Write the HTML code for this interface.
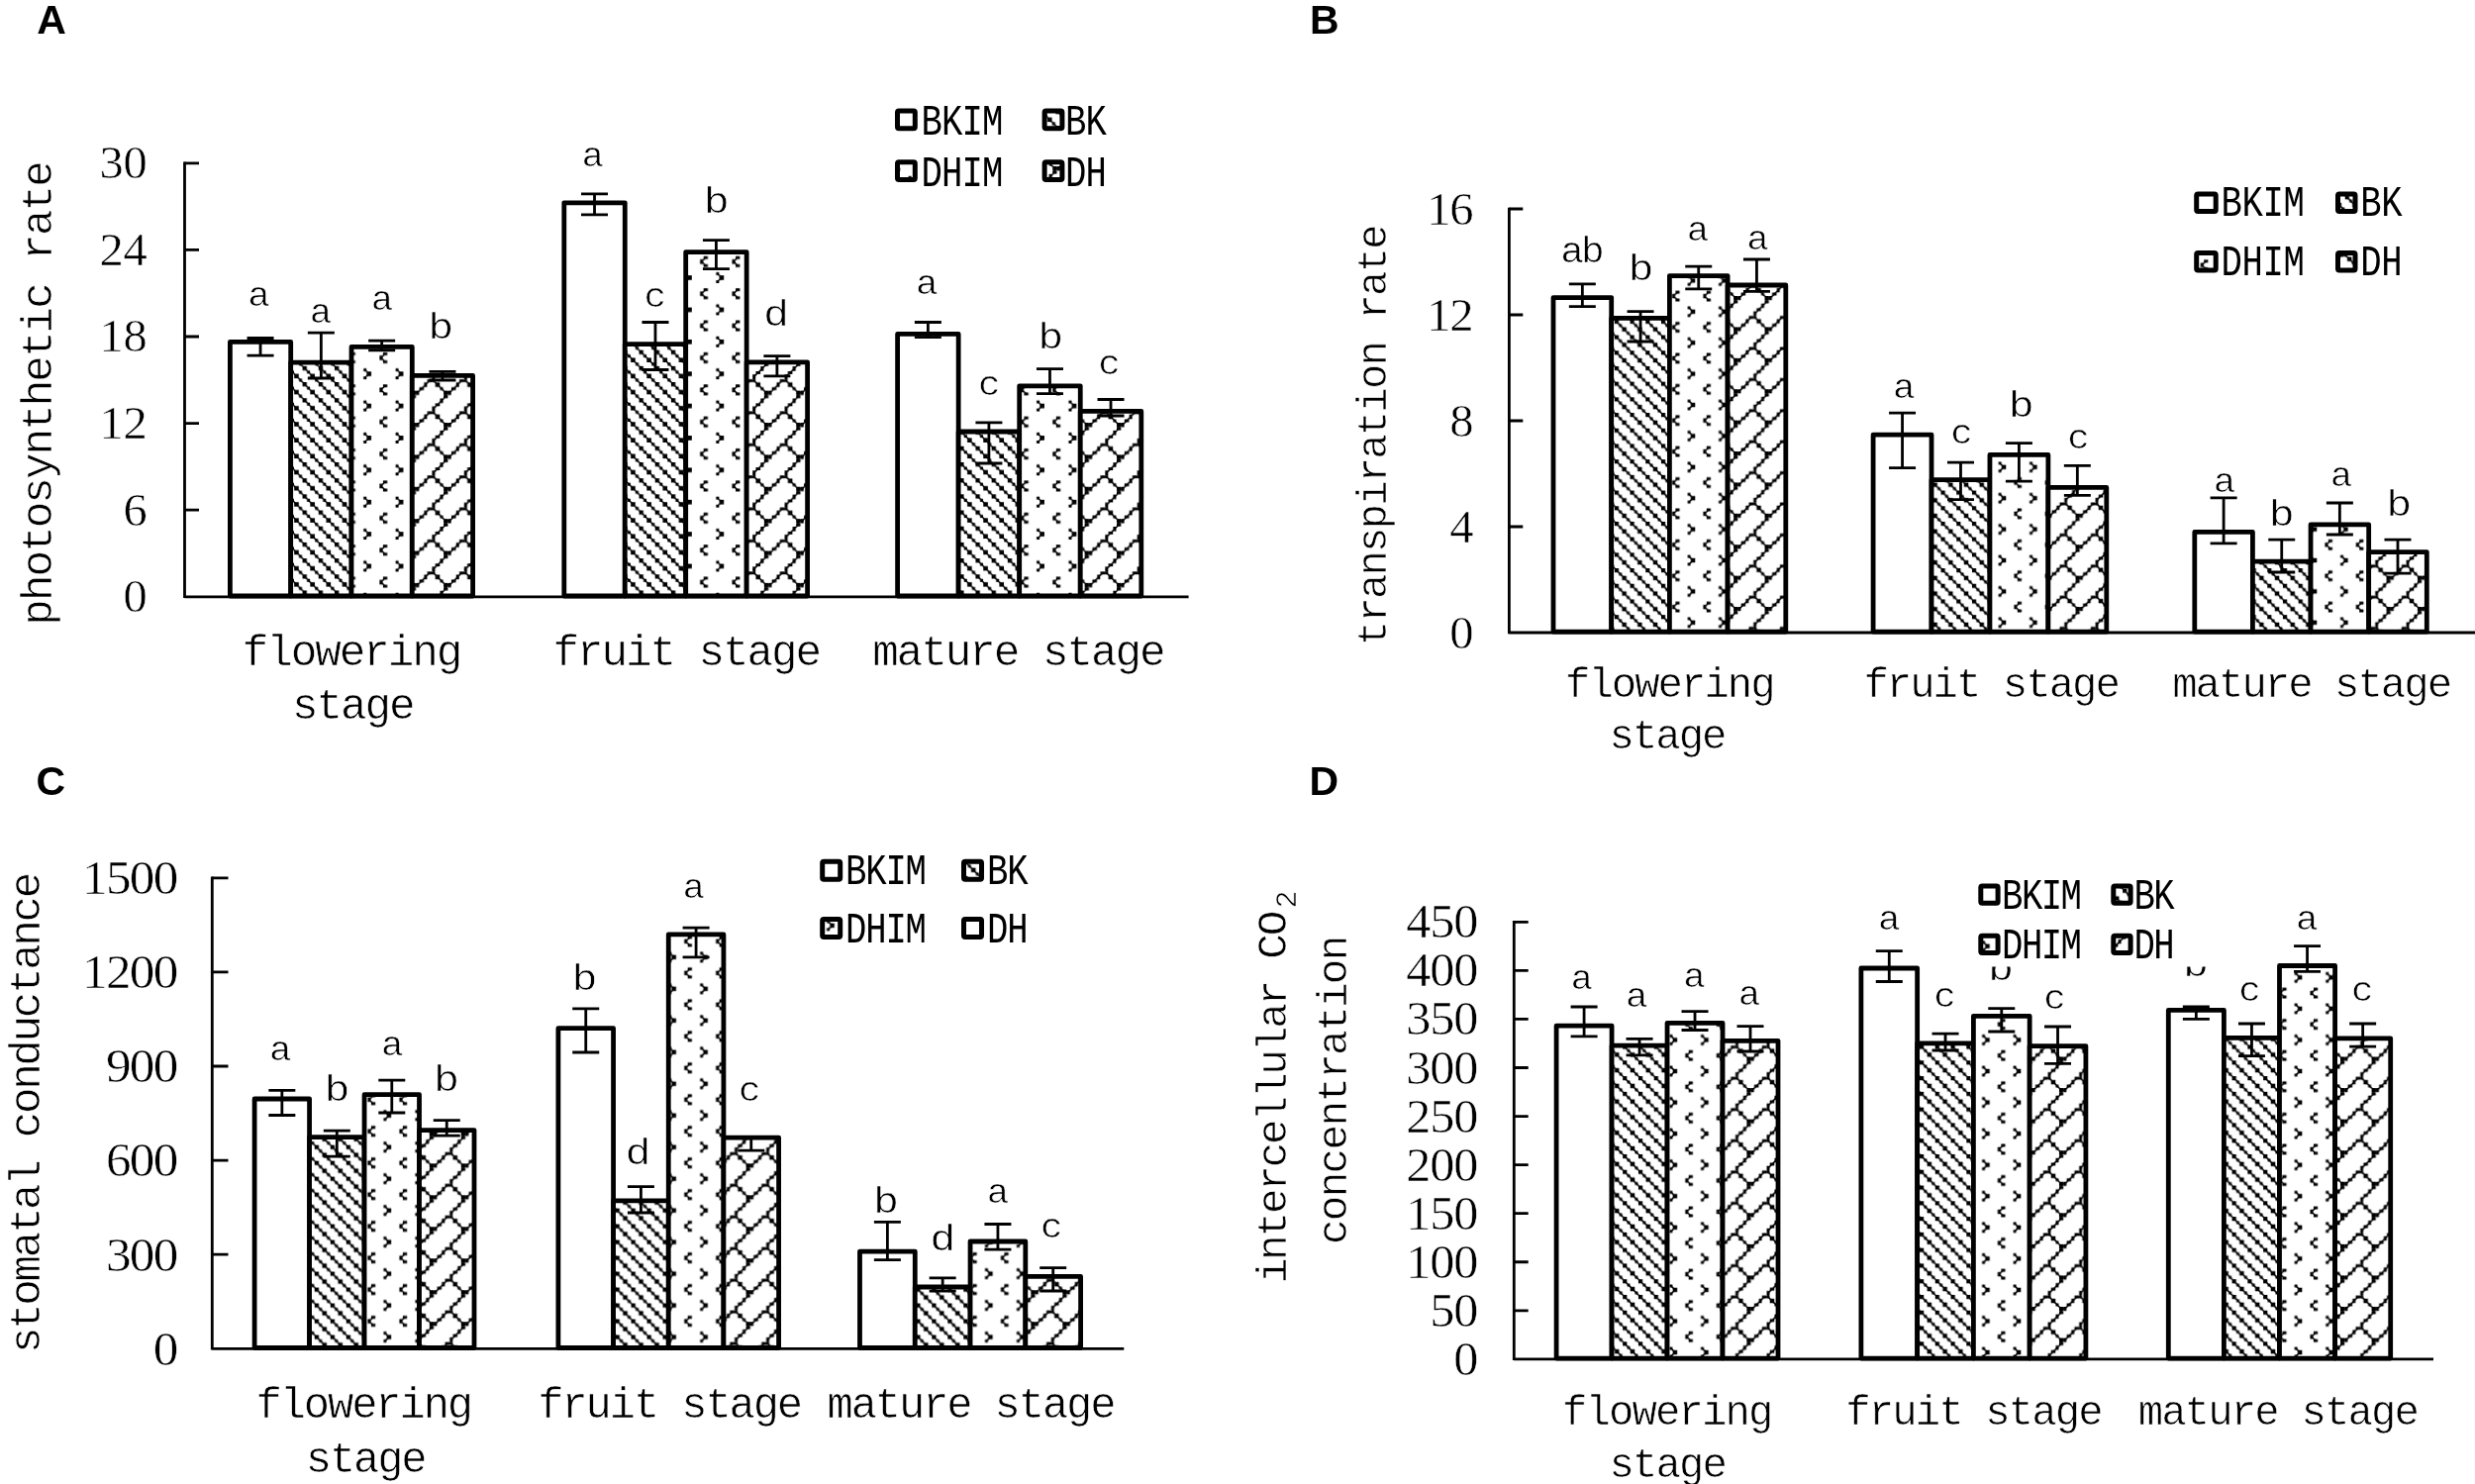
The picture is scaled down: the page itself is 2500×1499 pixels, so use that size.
<!DOCTYPE html>
<html><head><meta charset="utf-8"><title>Figure</title>
<style>
html,body{margin:0;padding:0;background:#fff;}
body{width:2500px;height:1499px;overflow:hidden;}
svg{display:block;filter:blur(0.55px);}
</style></head><body>
<svg width="2500" height="1499" viewBox="0 0 2500 1499">
<defs>
<pattern id="pdA" patternUnits="userSpaceOnUse" x="-2.02" y="13.68" width="16.188" height="16.188"><rect width="16.188" height="16.188" fill="#fff"/><path d="M-0.27 -0.27h4.60v4.60h-4.60zM4.55 4.55h3.05v3.05h-3.05zM7.82 7.82h4.60v4.60h-4.60zM12.64 12.64h3.05v3.05h-3.05z" fill="#000"/><path d="M-14.16 -14.16L2.02 2.02M-14.16 2.02L2.02 18.21M-14.16 18.21L2.02 34.40M2.02 -14.16L18.21 2.02M2.02 2.02L18.21 18.21M2.02 18.21L18.21 34.40M18.21 -14.16L34.40 2.02M18.21 2.02L34.40 18.21M18.21 18.21L34.40 34.40" stroke="#000" stroke-width="1.5" fill="none" stroke-linecap="square"/></pattern>
<pattern id="pvA" patternUnits="userSpaceOnUse" x="-1.60" y="11.34" width="32.376" height="32.376"><rect width="32.376" height="32.376" fill="#fff"/><path d="M12.64 4.55h3.05v3.05h-3.05zM15.91 7.82h4.60v4.60h-4.60zM12.64 12.64h3.05v3.05h-3.05zM-0.27 20.73h4.60v3.05h-4.60zM28.83 24.01h3.05v4.60h-3.05zM-0.27 28.83h4.60v3.05h-4.60z" fill="#000"/><path d="M-18.21 -26.31L-14.16 -22.26L-18.21 -18.21M-18.21 6.07L-14.16 10.12L-18.21 14.16M-18.21 38.45L-14.16 42.49L-18.21 46.54M14.16 -26.31L18.21 -22.26L14.16 -18.21M14.16 6.07L18.21 10.12L14.16 14.16M14.16 38.45L18.21 42.49L14.16 46.54M46.54 -26.31L50.59 -22.26L46.54 -18.21M46.54 6.07L50.59 10.12L46.54 14.16M46.54 38.45L50.59 42.49L46.54 46.54M-30.35 -10.12L-34.40 -6.07L-30.35 -2.02M-30.35 22.26L-34.40 26.31L-30.35 30.35M-30.35 54.63L-34.40 58.68L-30.35 62.73M2.02 -10.12L-2.02 -6.07L2.02 -2.02M2.02 22.26L-2.02 26.31L2.02 30.35M2.02 54.63L-2.02 58.68L2.02 62.73M34.40 -10.12L30.35 -6.07L34.40 -2.02M34.40 22.26L30.35 26.31L34.40 30.35M34.40 54.63L30.35 58.68L34.40 62.73" stroke="#000" stroke-width="1.5" fill="none" stroke-linecap="square"/></pattern>
<pattern id="psA" patternUnits="userSpaceOnUse" x="27.20" y="6.10" width="32.376" height="32.376"><rect width="32.376" height="32.376" fill="#fff"/><path d="M-0.27 -0.27h4.60v4.60h-4.60zM4.55 -0.27h3.05v4.60h-3.05zM-0.27 4.55h4.60v3.05h-4.60zM28.83 7.82h3.05v4.60h-3.05zM24.01 12.64h4.60v3.05h-4.60zM20.73 15.91h3.05v4.60h-3.05zM15.91 20.73h4.60v3.05h-4.60zM20.73 20.73h3.05v3.05h-3.05zM12.64 24.01h3.05v4.60h-3.05zM24.01 24.01h4.60v4.60h-4.60zM7.82 28.83h4.60v3.05h-4.60zM28.83 28.83h3.05v3.05h-3.05z" fill="#000"/><path d="M-26.31 -30.35L-30.35 -30.35L-30.35 -26.31L-34.40 -22.26M-26.31 2.02L-30.35 2.02L-30.35 6.07L-34.40 10.12M-26.31 34.40L-30.35 34.40L-30.35 38.45L-34.40 42.49M6.07 -30.35L2.02 -30.35L2.02 -26.31L-2.02 -22.26M6.07 2.02L2.02 2.02L2.02 6.07L-2.02 10.12M6.07 34.40L2.02 34.40L2.02 38.45L-2.02 42.49M38.45 -30.35L34.40 -30.35L34.40 -26.31L30.35 -22.26M38.45 2.02L34.40 2.02L34.40 6.07L30.35 10.12M38.45 34.40L34.40 34.40L34.40 38.45L30.35 42.49M2.02 -26.31L-2.02 -22.26L-6.07 -18.21L-10.12 -14.16L-10.12 -10.12L-14.16 -10.12L-18.21 -6.07L-22.26 -2.02L-26.31 2.02M2.02 6.07L-2.02 10.12L-6.07 14.16L-10.12 18.21L-10.12 22.26L-14.16 22.26L-18.21 26.31L-22.26 30.35L-26.31 34.40M2.02 38.45L-2.02 42.49L-6.07 46.54L-10.12 50.59L-10.12 54.63L-14.16 54.63L-18.21 58.68L-22.26 62.73L-26.31 66.78M34.40 -26.31L30.35 -22.26L26.31 -18.21L22.26 -14.16L22.26 -10.12L18.21 -10.12L14.16 -6.07L10.12 -2.02L6.07 2.02M34.40 6.07L30.35 10.12L26.31 14.16L22.26 18.21L22.26 22.26L18.21 22.26L14.16 26.31L10.12 30.35L6.07 34.40M34.40 38.45L30.35 42.49L26.31 46.54L22.26 50.59L22.26 54.63L18.21 54.63L14.16 58.68L10.12 62.73L6.07 66.78M66.78 -26.31L62.73 -22.26L58.68 -18.21L54.63 -14.16L54.63 -10.12L50.59 -10.12L46.54 -6.07L42.49 -2.02L38.45 2.02M66.78 6.07L62.73 10.12L58.68 14.16L54.63 18.21L54.63 22.26L50.59 22.26L46.54 26.31L42.49 30.35L38.45 34.40M66.78 38.45L62.73 42.49L58.68 46.54L54.63 50.59L54.63 54.63L50.59 54.63L46.54 58.68L42.49 62.73L38.45 66.78M-10.12 -10.12L-6.07 -6.07L-2.02 -2.02L2.02 2.02M-10.12 22.26L-6.07 26.31L-2.02 30.35L2.02 34.40M-10.12 54.63L-6.07 58.68L-2.02 62.73L2.02 66.78M22.26 -10.12L26.31 -6.07L30.35 -2.02L34.40 2.02M22.26 22.26L26.31 26.31L30.35 30.35L34.40 34.40M22.26 54.63L26.31 58.68L30.35 62.73L34.40 66.78M54.63 -10.12L58.68 -6.07L62.73 -2.02L66.78 2.02M54.63 22.26L58.68 26.31L62.73 30.35L66.78 34.40M54.63 54.63L58.68 58.68L62.73 62.73L66.78 66.78" stroke="#000" stroke-width="1.5" fill="none" stroke-linecap="square"/></pattern>
<pattern id="pdB" patternUnits="userSpaceOnUse" x="-1.96" y="8.84" width="15.700" height="15.700"><rect width="15.700" height="15.700" fill="#fff"/><path d="M-0.27 -0.27h4.47v4.47h-4.47zM4.42 4.42h2.92v2.92h-2.92zM7.58 7.58h4.47v4.47h-4.47zM12.27 12.27h2.92v2.92h-2.92z" fill="#000"/><path d="M-13.74 -13.74L1.96 1.96M-13.74 1.96L1.96 17.66M-13.74 17.66L1.96 33.36M1.96 -13.74L17.66 1.96M1.96 1.96L17.66 17.66M1.96 17.66L17.66 33.36M17.66 -13.74L33.36 1.96M17.66 1.96L33.36 17.66M17.66 17.66L33.36 33.36" stroke="#000" stroke-width="1.5" fill="none" stroke-linecap="square"/></pattern>
<pattern id="pvB" patternUnits="userSpaceOnUse" x="28.20" y="22.40" width="31.400" height="31.400"><rect width="31.400" height="31.400" fill="#fff"/><path d="M12.27 4.42h2.92v2.92h-2.92zM15.42 7.58h4.47v4.47h-4.47zM12.27 12.27h2.92v2.92h-2.92zM-0.27 20.12h4.47v2.92h-4.47zM27.98 23.27h2.92v4.47h-2.92zM-0.27 27.98h4.47v2.92h-4.47z" fill="#000"/><path d="M-17.66 -25.51L-13.74 -21.59L-17.66 -17.66M-17.66 5.89L-13.74 9.81L-17.66 13.74M-17.66 37.29L-13.74 41.21L-17.66 45.14M13.74 -25.51L17.66 -21.59L13.74 -17.66M13.74 5.89L17.66 9.81L13.74 13.74M13.74 37.29L17.66 41.21L13.74 45.14M45.14 -25.51L49.06 -21.59L45.14 -17.66M45.14 5.89L49.06 9.81L45.14 13.74M45.14 37.29L49.06 41.21L45.14 45.14M-29.44 -9.81L-33.36 -5.89L-29.44 -1.96M-29.44 21.59L-33.36 25.51L-29.44 29.44M-29.44 52.99L-33.36 56.91L-29.44 60.84M1.96 -9.81L-1.96 -5.89L1.96 -1.96M1.96 21.59L-1.96 25.51L1.96 29.44M1.96 52.99L-1.96 56.91L1.96 60.84M33.36 -9.81L29.44 -5.89L33.36 -1.96M33.36 21.59L29.44 25.51L33.36 29.44M33.36 52.99L29.44 56.91L33.36 60.84" stroke="#000" stroke-width="1.5" fill="none" stroke-linecap="square"/></pattern>
<pattern id="psB" patternUnits="userSpaceOnUse" x="24.10" y="16.40" width="31.400" height="31.400"><rect width="31.400" height="31.400" fill="#fff"/><path d="M-0.27 -0.27h4.47v4.47h-4.47zM4.42 -0.27h2.92v4.47h-2.92zM-0.27 4.42h4.47v2.92h-4.47zM27.98 7.58h2.92v4.47h-2.92zM23.27 12.27h4.47v2.92h-4.47zM20.12 15.42h2.92v4.47h-2.92zM15.42 20.12h4.47v2.92h-4.47zM20.12 20.12h2.92v2.92h-2.92zM12.27 23.27h2.92v4.47h-2.92zM23.27 23.27h4.47v4.47h-4.47zM7.58 27.98h4.47v2.92h-4.47zM27.98 27.98h2.92v2.92h-2.92z" fill="#000"/><path d="M-25.51 -29.44L-29.44 -29.44L-29.44 -25.51L-33.36 -21.59M-25.51 1.96L-29.44 1.96L-29.44 5.89L-33.36 9.81M-25.51 33.36L-29.44 33.36L-29.44 37.29L-33.36 41.21M5.89 -29.44L1.96 -29.44L1.96 -25.51L-1.96 -21.59M5.89 1.96L1.96 1.96L1.96 5.89L-1.96 9.81M5.89 33.36L1.96 33.36L1.96 37.29L-1.96 41.21M37.29 -29.44L33.36 -29.44L33.36 -25.51L29.44 -21.59M37.29 1.96L33.36 1.96L33.36 5.89L29.44 9.81M37.29 33.36L33.36 33.36L33.36 37.29L29.44 41.21M1.96 -25.51L-1.96 -21.59L-5.89 -17.66L-9.81 -13.74L-9.81 -9.81L-13.74 -9.81L-17.66 -5.89L-21.59 -1.96L-25.51 1.96M1.96 5.89L-1.96 9.81L-5.89 13.74L-9.81 17.66L-9.81 21.59L-13.74 21.59L-17.66 25.51L-21.59 29.44L-25.51 33.36M1.96 37.29L-1.96 41.21L-5.89 45.14L-9.81 49.06L-9.81 52.99L-13.74 52.99L-17.66 56.91L-21.59 60.84L-25.51 64.76M33.36 -25.51L29.44 -21.59L25.51 -17.66L21.59 -13.74L21.59 -9.81L17.66 -9.81L13.74 -5.89L9.81 -1.96L5.89 1.96M33.36 5.89L29.44 9.81L25.51 13.74L21.59 17.66L21.59 21.59L17.66 21.59L13.74 25.51L9.81 29.44L5.89 33.36M33.36 37.29L29.44 41.21L25.51 45.14L21.59 49.06L21.59 52.99L17.66 52.99L13.74 56.91L9.81 60.84L5.89 64.76M64.76 -25.51L60.84 -21.59L56.91 -17.66L52.99 -13.74L52.99 -9.81L49.06 -9.81L45.14 -5.89L41.21 -1.96L37.29 1.96M64.76 5.89L60.84 9.81L56.91 13.74L52.99 17.66L52.99 21.59L49.06 21.59L45.14 25.51L41.21 29.44L37.29 33.36M64.76 37.29L60.84 41.21L56.91 45.14L52.99 49.06L52.99 52.99L49.06 52.99L45.14 56.91L41.21 60.84L37.29 64.76M-9.81 -9.81L-5.89 -5.89L-1.96 -1.96L1.96 1.96M-9.81 21.59L-5.89 25.51L-1.96 29.44L1.96 33.36M-9.81 52.99L-5.89 56.91L-1.96 60.84L1.96 64.76M21.59 -9.81L25.51 -5.89L29.44 -1.96L33.36 1.96M21.59 21.59L25.51 25.51L29.44 29.44L33.36 33.36M21.59 52.99L25.51 56.91L29.44 60.84L33.36 64.76M52.99 -9.81L56.91 -5.89L60.84 -1.96L64.76 1.96M52.99 21.59L56.91 25.51L60.84 29.44L64.76 33.36M52.99 52.99L56.91 56.91L60.84 60.84L64.76 64.76" stroke="#000" stroke-width="1.5" fill="none" stroke-linecap="square"/></pattern>
<pattern id="pdC" patternUnits="userSpaceOnUse" x="-2.00" y="5.50" width="15.988" height="15.988"><rect width="15.988" height="15.988" fill="#fff"/><path d="M-0.27 -0.27h4.55v4.55h-4.55zM4.50 4.50h3.00v3.00h-3.00zM7.72 7.72h4.55v4.55h-4.55zM12.49 12.49h3.00v3.00h-3.00z" fill="#000"/><path d="M-13.99 -13.99L2.00 2.00M-13.99 2.00L2.00 17.99M-13.99 17.99L2.00 33.97M2.00 -13.99L17.99 2.00M2.00 2.00L17.99 17.99M2.00 17.99L17.99 33.97M17.99 -13.99L33.97 2.00M17.99 2.00L33.97 17.99M17.99 17.99L33.97 33.97" stroke="#000" stroke-width="1.5" fill="none" stroke-linecap="square"/></pattern>
<pattern id="pvC" patternUnits="userSpaceOnUse" x="23.17" y="29.55" width="31.976" height="31.976"><rect width="31.976" height="31.976" fill="#fff"/><path d="M12.49 4.50h3.00v3.00h-3.00zM15.71 7.72h4.55v4.55h-4.55zM12.49 12.49h3.00v3.00h-3.00zM-0.27 20.48h4.55v3.00h-4.55zM28.48 23.71h3.00v4.55h-3.00zM-0.27 28.48h4.55v3.00h-4.55z" fill="#000"/><path d="M-17.99 -25.98L-13.99 -21.98L-17.99 -17.99M-17.99 6.00L-13.99 9.99L-17.99 13.99M-17.99 37.97L-13.99 41.97L-17.99 45.97M13.99 -25.98L17.99 -21.98L13.99 -17.99M13.99 6.00L17.99 9.99L13.99 13.99M13.99 37.97L17.99 41.97L13.99 45.97M45.97 -25.98L49.96 -21.98L45.97 -17.99M45.97 6.00L49.96 9.99L45.97 13.99M45.97 37.97L49.96 41.97L45.97 45.97M-29.98 -9.99L-33.97 -6.00L-29.98 -2.00M-29.98 21.98L-33.97 25.98L-29.98 29.98M-29.98 53.96L-33.97 57.96L-29.98 61.95M2.00 -9.99L-2.00 -6.00L2.00 -2.00M2.00 21.98L-2.00 25.98L2.00 29.98M2.00 53.96L-2.00 57.96L2.00 61.95M33.97 -9.99L29.98 -6.00L33.97 -2.00M33.97 21.98L29.98 25.98L33.97 29.98M33.97 53.96L29.98 57.96L33.97 61.95" stroke="#000" stroke-width="1.5" fill="none" stroke-linecap="square"/></pattern>
<pattern id="psC" patternUnits="userSpaceOnUse" x="18.10" y="24.16" width="31.976" height="31.976"><rect width="31.976" height="31.976" fill="#fff"/><path d="M-0.27 -0.27h4.55v4.55h-4.55zM4.50 -0.27h3.00v4.55h-3.00zM-0.27 4.50h4.55v3.00h-4.55zM28.48 7.72h3.00v4.55h-3.00zM23.71 12.49h4.55v3.00h-4.55zM20.48 15.71h3.00v4.55h-3.00zM15.71 20.48h4.55v3.00h-4.55zM20.48 20.48h3.00v3.00h-3.00zM12.49 23.71h3.00v4.55h-3.00zM23.71 23.71h4.55v4.55h-4.55zM7.72 28.48h4.55v3.00h-4.55zM28.48 28.48h3.00v3.00h-3.00z" fill="#000"/><path d="M-25.98 -29.98L-29.98 -29.98L-29.98 -25.98L-33.97 -21.98M-25.98 2.00L-29.98 2.00L-29.98 6.00L-33.97 9.99M-25.98 33.97L-29.98 33.97L-29.98 37.97L-33.97 41.97M6.00 -29.98L2.00 -29.98L2.00 -25.98L-2.00 -21.98M6.00 2.00L2.00 2.00L2.00 6.00L-2.00 9.99M6.00 33.97L2.00 33.97L2.00 37.97L-2.00 41.97M37.97 -29.98L33.97 -29.98L33.97 -25.98L29.98 -21.98M37.97 2.00L33.97 2.00L33.97 6.00L29.98 9.99M37.97 33.97L33.97 33.97L33.97 37.97L29.98 41.97M2.00 -25.98L-2.00 -21.98L-6.00 -17.99L-9.99 -13.99L-9.99 -9.99L-13.99 -9.99L-17.99 -6.00L-21.98 -2.00L-25.98 2.00M2.00 6.00L-2.00 9.99L-6.00 13.99L-9.99 17.99L-9.99 21.98L-13.99 21.98L-17.99 25.98L-21.98 29.98L-25.98 33.97M2.00 37.97L-2.00 41.97L-6.00 45.97L-9.99 49.96L-9.99 53.96L-13.99 53.96L-17.99 57.96L-21.98 61.95L-25.98 65.95M33.97 -25.98L29.98 -21.98L25.98 -17.99L21.98 -13.99L21.98 -9.99L17.99 -9.99L13.99 -6.00L9.99 -2.00L6.00 2.00M33.97 6.00L29.98 9.99L25.98 13.99L21.98 17.99L21.98 21.98L17.99 21.98L13.99 25.98L9.99 29.98L6.00 33.97M33.97 37.97L29.98 41.97L25.98 45.97L21.98 49.96L21.98 53.96L17.99 53.96L13.99 57.96L9.99 61.95L6.00 65.95M65.95 -25.98L61.95 -21.98L57.96 -17.99L53.96 -13.99L53.96 -9.99L49.96 -9.99L45.97 -6.00L41.97 -2.00L37.97 2.00M65.95 6.00L61.95 9.99L57.96 13.99L53.96 17.99L53.96 21.98L49.96 21.98L45.97 25.98L41.97 29.98L37.97 33.97M65.95 37.97L61.95 41.97L57.96 45.97L53.96 49.96L53.96 53.96L49.96 53.96L45.97 57.96L41.97 61.95L37.97 65.95M-9.99 -9.99L-6.00 -6.00L-2.00 -2.00L2.00 2.00M-9.99 21.98L-6.00 25.98L-2.00 29.98L2.00 33.97M-9.99 53.96L-6.00 57.96L-2.00 61.95L2.00 65.95M21.98 -9.99L25.98 -6.00L29.98 -2.00L33.97 2.00M21.98 21.98L25.98 25.98L29.98 29.98L33.97 33.97M21.98 53.96L25.98 57.96L29.98 61.95L33.97 65.95M53.96 -9.99L57.96 -6.00L61.95 -2.00L65.95 2.00M53.96 21.98L57.96 25.98L61.95 29.98L65.95 33.97M53.96 53.96L57.96 57.96L61.95 61.95L65.95 65.95" stroke="#000" stroke-width="1.5" fill="none" stroke-linecap="square"/></pattern>
<pattern id="pdD" patternUnits="userSpaceOnUse" x="-1.97" y="-1.77" width="15.780" height="15.780"><rect width="15.780" height="15.780" fill="#fff"/><path d="M-0.28 -0.28h4.50v4.50h-4.50zM4.44 4.44h2.94v2.94h-2.94zM7.61 7.61h4.50v4.50h-4.50zM12.33 12.33h2.94v2.94h-2.94z" fill="#000"/><path d="M-13.81 -13.81L1.97 1.97M-13.81 1.97L1.97 17.75M-13.81 17.75L1.97 33.53M1.97 -13.81L17.75 1.97M1.97 1.97L17.75 17.75M1.97 17.75L17.75 33.53M17.75 -13.81L33.53 1.97M17.75 1.97L33.53 17.75M17.75 17.75L33.53 33.53" stroke="#000" stroke-width="1.5" fill="none" stroke-linecap="square"/></pattern>
<pattern id="pvD" patternUnits="userSpaceOnUse" x="1.48" y="30.66" width="31.560" height="31.560"><rect width="31.560" height="31.560" fill="#fff"/><path d="M12.33 4.44h2.94v2.94h-2.94zM15.50 7.61h4.50v4.50h-4.50zM12.33 12.33h2.94v2.94h-2.94zM-0.28 20.22h4.50v2.94h-4.50zM28.11 23.39h2.94v4.50h-2.94zM-0.28 28.11h4.50v2.94h-4.50z" fill="#000"/><path d="M-17.75 -25.64L-13.81 -21.70L-17.75 -17.75M-17.75 5.92L-13.81 9.86L-17.75 13.81M-17.75 37.48L-13.81 41.42L-17.75 45.37M13.81 -25.64L17.75 -21.70L13.81 -17.75M13.81 5.92L17.75 9.86L13.81 13.81M13.81 37.48L17.75 41.42L13.81 45.37M45.37 -25.64L49.31 -21.70L45.37 -17.75M45.37 5.92L49.31 9.86L45.37 13.81M45.37 37.48L49.31 41.42L45.37 45.37M-29.59 -9.86L-33.53 -5.92L-29.59 -1.97M-29.59 21.70L-33.53 25.64L-29.59 29.59M-29.59 53.26L-33.53 57.20L-29.59 61.15M1.97 -9.86L-1.97 -5.92L1.97 -1.97M1.97 21.70L-1.97 25.64L1.97 29.59M1.97 53.26L-1.97 57.20L1.97 61.15M33.53 -9.86L29.59 -5.92L33.53 -1.97M33.53 21.70L29.59 25.64L33.53 29.59M33.53 53.26L29.59 57.20L33.53 61.15" stroke="#000" stroke-width="1.5" fill="none" stroke-linecap="square"/></pattern>
<pattern id="psD" patternUnits="userSpaceOnUse" x="28.55" y="26.00" width="31.560" height="31.560"><rect width="31.560" height="31.560" fill="#fff"/><path d="M-0.28 -0.28h4.50v4.50h-4.50zM4.44 -0.28h2.94v4.50h-2.94zM-0.28 4.44h4.50v2.94h-4.50zM28.11 7.61h2.94v4.50h-2.94zM23.39 12.33h4.50v2.94h-4.50zM20.22 15.50h2.94v4.50h-2.94zM15.50 20.22h4.50v2.94h-4.50zM20.22 20.22h2.94v2.94h-2.94zM12.33 23.39h2.94v4.50h-2.94zM23.39 23.39h4.50v4.50h-4.50zM7.61 28.11h4.50v2.94h-4.50zM28.11 28.11h2.94v2.94h-2.94z" fill="#000"/><path d="M-25.64 -29.59L-29.59 -29.59L-29.59 -25.64L-33.53 -21.70M-25.64 1.97L-29.59 1.97L-29.59 5.92L-33.53 9.86M-25.64 33.53L-29.59 33.53L-29.59 37.48L-33.53 41.42M5.92 -29.59L1.97 -29.59L1.97 -25.64L-1.97 -21.70M5.92 1.97L1.97 1.97L1.97 5.92L-1.97 9.86M5.92 33.53L1.97 33.53L1.97 37.48L-1.97 41.42M37.48 -29.59L33.53 -29.59L33.53 -25.64L29.59 -21.70M37.48 1.97L33.53 1.97L33.53 5.92L29.59 9.86M37.48 33.53L33.53 33.53L33.53 37.48L29.59 41.42M1.97 -25.64L-1.97 -21.70L-5.92 -17.75L-9.86 -13.81L-9.86 -9.86L-13.81 -9.86L-17.75 -5.92L-21.70 -1.97L-25.64 1.97M1.97 5.92L-1.97 9.86L-5.92 13.81L-9.86 17.75L-9.86 21.70L-13.81 21.70L-17.75 25.64L-21.70 29.59L-25.64 33.53M1.97 37.48L-1.97 41.42L-5.92 45.37L-9.86 49.31L-9.86 53.26L-13.81 53.26L-17.75 57.20L-21.70 61.15L-25.64 65.09M33.53 -25.64L29.59 -21.70L25.64 -17.75L21.70 -13.81L21.70 -9.86L17.75 -9.86L13.81 -5.92L9.86 -1.97L5.92 1.97M33.53 5.92L29.59 9.86L25.64 13.81L21.70 17.75L21.70 21.70L17.75 21.70L13.81 25.64L9.86 29.59L5.92 33.53M33.53 37.48L29.59 41.42L25.64 45.37L21.70 49.31L21.70 53.26L17.75 53.26L13.81 57.20L9.86 61.15L5.92 65.09M65.09 -25.64L61.15 -21.70L57.20 -17.75L53.26 -13.81L53.26 -9.86L49.31 -9.86L45.37 -5.92L41.42 -1.97L37.48 1.97M65.09 5.92L61.15 9.86L57.20 13.81L53.26 17.75L53.26 21.70L49.31 21.70L45.37 25.64L41.42 29.59L37.48 33.53M65.09 37.48L61.15 41.42L57.20 45.37L53.26 49.31L53.26 53.26L49.31 53.26L45.37 57.20L41.42 61.15L37.48 65.09M-9.86 -9.86L-5.92 -5.92L-1.97 -1.97L1.97 1.97M-9.86 21.70L-5.92 25.64L-1.97 29.59L1.97 33.53M-9.86 53.26L-5.92 57.20L-1.97 61.15L1.97 65.09M21.70 -9.86L25.64 -5.92L29.59 -1.97L33.53 1.97M21.70 21.70L25.64 25.64L29.59 29.59L33.53 33.53M21.70 53.26L25.64 57.20L29.59 61.15L33.53 65.09M53.26 -9.86L57.20 -5.92L61.15 -1.97L65.09 1.97M53.26 21.70L57.20 25.64L61.15 29.59L65.09 33.53M53.26 53.26L57.20 57.20L61.15 61.15L65.09 65.09" stroke="#000" stroke-width="1.5" fill="none" stroke-linecap="square"/></pattern>
</defs>
<rect width="2500" height="1499" fill="#fff"/>
<g font-family='"Liberation Mono", monospace'>
<rect x="232.40" y="345.40" width="61.30" height="256.60" fill="#fff" stroke="#000" stroke-width="4.8" stroke-linejoin="round"/>
<rect x="293.70" y="366.10" width="61.30" height="235.90" fill="url(#pdA)" stroke="#000" stroke-width="4.8" stroke-linejoin="round"/>
<rect x="355.00" y="350.40" width="61.30" height="251.60" fill="url(#pvA)" stroke="#000" stroke-width="4.8" stroke-linejoin="round"/>
<rect x="416.30" y="379.40" width="61.30" height="222.60" fill="url(#psA)" stroke="#000" stroke-width="4.8" stroke-linejoin="round"/>
<rect x="569.80" y="204.80" width="61.45" height="397.20" fill="#fff" stroke="#000" stroke-width="4.8" stroke-linejoin="round"/>
<rect x="631.25" y="347.60" width="61.45" height="254.40" fill="url(#pdA)" stroke="#000" stroke-width="4.8" stroke-linejoin="round"/>
<rect x="692.70" y="254.60" width="61.45" height="347.40" fill="url(#pvA)" stroke="#000" stroke-width="4.8" stroke-linejoin="round"/>
<rect x="754.15" y="365.80" width="61.45" height="236.20" fill="url(#psA)" stroke="#000" stroke-width="4.8" stroke-linejoin="round"/>
<rect x="906.60" y="337.40" width="61.55" height="264.60" fill="#fff" stroke="#000" stroke-width="4.8" stroke-linejoin="round"/>
<rect x="968.15" y="436.00" width="61.55" height="166.00" fill="url(#pdA)" stroke="#000" stroke-width="4.8" stroke-linejoin="round"/>
<rect x="1029.70" y="389.80" width="61.55" height="212.20" fill="url(#pvA)" stroke="#000" stroke-width="4.8" stroke-linejoin="round"/>
<rect x="1091.25" y="415.40" width="61.55" height="186.60" fill="url(#psA)" stroke="#000" stroke-width="4.8" stroke-linejoin="round"/>
<path d="M249.55 341.50H276.55M249.55 359.20H276.55M263.05 341.50V359.20" stroke="#000" stroke-width="2.8" fill="none"/>
<path d="M310.85 336.10H337.85M310.85 382.00H337.85M324.35 336.10V382.00" stroke="#000" stroke-width="2.8" fill="none"/>
<path d="M372.15 344.20H399.15M372.15 353.80H399.15M385.65 344.20V353.80" stroke="#000" stroke-width="2.8" fill="none"/>
<path d="M433.45 375.30H460.45M433.45 384.00H460.45M446.95 375.30V384.00" stroke="#000" stroke-width="2.8" fill="none"/>
<path d="M587.02 195.80H614.02M587.02 216.80H614.02M600.52 195.80V216.80" stroke="#000" stroke-width="2.8" fill="none"/>
<path d="M648.47 325.50H675.47M648.47 373.50H675.47M661.97 325.50V373.50" stroke="#000" stroke-width="2.8" fill="none"/>
<path d="M709.92 242.60H736.92M709.92 271.60H736.92M723.42 242.60V271.60" stroke="#000" stroke-width="2.8" fill="none"/>
<path d="M771.38 359.60H798.38M771.38 379.80H798.38M784.88 359.60V379.80" stroke="#000" stroke-width="2.8" fill="none"/>
<path d="M923.88 325.50H950.88M923.88 340.60H950.88M937.38 325.50V340.60" stroke="#000" stroke-width="2.8" fill="none"/>
<path d="M985.42 426.80H1012.42M985.42 468.00H1012.42M998.92 426.80V468.00" stroke="#000" stroke-width="2.8" fill="none"/>
<path d="M1046.97 372.70H1073.97M1046.97 397.70H1073.97M1060.47 372.70V397.70" stroke="#000" stroke-width="2.8" fill="none"/>
<path d="M1108.53 403.50H1135.53M1108.53 420.00H1135.53M1122.03 403.50V420.00" stroke="#000" stroke-width="2.8" fill="none"/>
<path d="M186.50 163.60V604.00M186.50 602.80H1200.60" stroke="#000" stroke-width="2.8" fill="none"/>
<text transform="translate(124.38,618.25) scale(1.0400,1)" font-size="46.67" letter-spacing="-0.353" fill="#000" font-family='"Liberation Serif", serif' stroke="#fff" stroke-width="0.5">0</text>
<text transform="translate(124.38,530.65) scale(1.0400,1)" font-size="46.67" letter-spacing="-0.353" fill="#000" font-family='"Liberation Serif", serif' stroke="#fff" stroke-width="0.5">6</text>
<text transform="translate(100.48,443.05) scale(1.0400,1)" font-size="46.67" letter-spacing="-0.353" fill="#000" font-family='"Liberation Serif", serif' stroke="#fff" stroke-width="0.5">12</text>
<text transform="translate(100.48,355.45) scale(1.0400,1)" font-size="46.67" letter-spacing="-0.353" fill="#000" font-family='"Liberation Serif", serif' stroke="#fff" stroke-width="0.5">18</text>
<text transform="translate(100.48,267.85) scale(1.0400,1)" font-size="46.67" letter-spacing="-0.353" fill="#000" font-family='"Liberation Serif", serif' stroke="#fff" stroke-width="0.5">24</text>
<text transform="translate(100.48,180.25) scale(1.0400,1)" font-size="46.67" letter-spacing="-0.353" fill="#000" font-family='"Liberation Serif", serif' stroke="#fff" stroke-width="0.5">30</text>
<path d="M186.50 515.20H201.00M186.50 427.60H201.00M186.50 340.00H201.00M186.50 252.40H201.00M186.50 164.80H201.00" stroke="#000" stroke-width="2.8" fill="none"/>
<text transform="translate(250.31,308.50) scale(1.0600,1)" font-size="35.50" letter-spacing="-2.149" fill="#000" stroke="#fff" stroke-width="0.6">a</text>
<text transform="translate(312.81,325.70) scale(1.0600,1)" font-size="35.50" letter-spacing="-2.149" fill="#000" stroke="#fff" stroke-width="0.6">a</text>
<text transform="translate(374.71,313.10) scale(1.0600,1)" font-size="35.50" letter-spacing="-2.149" fill="#000" stroke="#fff" stroke-width="0.6">a</text>
<text transform="translate(432.36,342.10) scale(1.1500,1)" font-size="37.80" letter-spacing="-5.028" fill="#000" stroke="#fff" stroke-width="0.6">b</text>
<text transform="translate(587.61,168.00) scale(1.0600,1)" font-size="35.50" letter-spacing="-2.149" fill="#000" stroke="#fff" stroke-width="0.6">a</text>
<text transform="translate(650.51,310.00) scale(1.0600,1)" font-size="35.50" letter-spacing="-2.149" fill="#000" stroke="#fff" stroke-width="0.6">c</text>
<text transform="translate(710.86,215.20) scale(1.1500,1)" font-size="37.80" letter-spacing="-5.028" fill="#000" stroke="#fff" stroke-width="0.6">b</text>
<text transform="translate(770.96,329.00) scale(1.1500,1)" font-size="37.80" letter-spacing="-5.028" fill="#000" stroke="#fff" stroke-width="0.6">d</text>
<text transform="translate(925.01,297.20) scale(1.0600,1)" font-size="35.50" letter-spacing="-2.149" fill="#000" stroke="#fff" stroke-width="0.6">a</text>
<text transform="translate(987.91,398.50) scale(1.0600,1)" font-size="35.50" letter-spacing="-2.149" fill="#000" stroke="#fff" stroke-width="0.6">c</text>
<text transform="translate(1048.26,351.70) scale(1.1500,1)" font-size="37.80" letter-spacing="-5.028" fill="#000" stroke="#fff" stroke-width="0.6">b</text>
<text transform="translate(1109.21,378.20) scale(1.0600,1)" font-size="35.50" letter-spacing="-2.149" fill="#000" stroke="#fff" stroke-width="0.6">c</text>
<text transform="translate(244.71,671.80) scale(1.0000,1)" font-size="44.30" letter-spacing="-2.080" fill="#000" stroke="#fff" stroke-width="0.6">flowering</text>
<text transform="translate(295.01,726.00) scale(1.0000,1)" font-size="44.30" letter-spacing="-2.080" fill="#000" stroke="#fff" stroke-width="0.6">stage</text>
<text transform="translate(558.51,671.80) scale(1.0000,1)" font-size="44.30" letter-spacing="-2.080" fill="#000" stroke="#fff" stroke-width="0.6">fruit stage</text>
<text transform="translate(881.36,671.80) scale(1.0000,1)" font-size="44.30" letter-spacing="-2.080" fill="#000" stroke="#fff" stroke-width="0.6">mature stage</text>
<rect x="1569.00" y="300.60" width="58.70" height="337.60" fill="#fff" stroke="#000" stroke-width="4.8" stroke-linejoin="round"/>
<rect x="1627.70" y="321.40" width="58.70" height="316.80" fill="url(#pdB)" stroke="#000" stroke-width="4.8" stroke-linejoin="round"/>
<rect x="1686.40" y="278.60" width="58.70" height="359.60" fill="url(#pvB)" stroke="#000" stroke-width="4.8" stroke-linejoin="round"/>
<rect x="1745.10" y="288.00" width="58.70" height="350.20" fill="url(#psB)" stroke="#000" stroke-width="4.8" stroke-linejoin="round"/>
<rect x="1892.10" y="439.20" width="58.92" height="199.00" fill="#fff" stroke="#000" stroke-width="4.8" stroke-linejoin="round"/>
<rect x="1951.03" y="484.70" width="58.92" height="153.50" fill="url(#pdB)" stroke="#000" stroke-width="4.8" stroke-linejoin="round"/>
<rect x="2009.95" y="459.40" width="58.92" height="178.80" fill="url(#pvB)" stroke="#000" stroke-width="4.8" stroke-linejoin="round"/>
<rect x="2068.88" y="492.40" width="58.92" height="145.80" fill="url(#psB)" stroke="#000" stroke-width="4.8" stroke-linejoin="round"/>
<rect x="2216.80" y="537.40" width="58.62" height="100.80" fill="#fff" stroke="#000" stroke-width="4.8" stroke-linejoin="round"/>
<rect x="2275.43" y="567.20" width="58.62" height="71.00" fill="url(#pdB)" stroke="#000" stroke-width="4.8" stroke-linejoin="round"/>
<rect x="2334.05" y="529.80" width="58.62" height="108.40" fill="url(#pvB)" stroke="#000" stroke-width="4.8" stroke-linejoin="round"/>
<rect x="2392.68" y="557.60" width="58.62" height="80.60" fill="url(#psB)" stroke="#000" stroke-width="4.8" stroke-linejoin="round"/>
<path d="M1584.85 286.80H1611.85M1584.85 309.60H1611.85M1598.35 286.80V309.60" stroke="#000" stroke-width="2.8" fill="none"/>
<path d="M1643.55 314.60H1670.55M1643.55 345.00H1670.55M1657.05 314.60V345.00" stroke="#000" stroke-width="2.8" fill="none"/>
<path d="M1702.25 269.10H1729.25M1702.25 291.90H1729.25M1715.75 269.10V291.90" stroke="#000" stroke-width="2.8" fill="none"/>
<path d="M1760.95 262.00H1787.95M1760.95 294.40H1787.95M1774.45 262.00V294.40" stroke="#000" stroke-width="2.8" fill="none"/>
<path d="M1908.06 417.10H1935.06M1908.06 472.70H1935.06M1921.56 417.10V472.70" stroke="#000" stroke-width="2.8" fill="none"/>
<path d="M1966.99 467.20H1993.99M1966.99 504.70H1993.99M1980.49 467.20V504.70" stroke="#000" stroke-width="2.8" fill="none"/>
<path d="M2025.91 447.70H2052.91M2025.91 486.20H2052.91M2039.41 447.70V486.20" stroke="#000" stroke-width="2.8" fill="none"/>
<path d="M2084.84 470.40H2111.84M2084.84 500.40H2111.84M2098.34 470.40V500.40" stroke="#000" stroke-width="2.8" fill="none"/>
<path d="M2232.61 502.90H2259.61M2232.61 548.90H2259.61M2246.11 502.90V548.90" stroke="#000" stroke-width="2.8" fill="none"/>
<path d="M2291.24 545.10H2318.24M2291.24 578.00H2318.24M2304.74 545.10V578.00" stroke="#000" stroke-width="2.8" fill="none"/>
<path d="M2349.86 508.00H2376.86M2349.86 540.00H2376.86M2363.36 508.00V540.00" stroke="#000" stroke-width="2.8" fill="none"/>
<path d="M2408.49 545.10H2435.49M2408.49 579.20H2435.49M2421.99 545.10V579.20" stroke="#000" stroke-width="2.8" fill="none"/>
<path d="M1524.40 209.80V640.20M1524.40 639.00H2500.00" stroke="#000" stroke-width="2.8" fill="none"/>
<text transform="translate(1464.31,654.50) scale(1.0400,1)" font-size="46.81" letter-spacing="-1.196" fill="#000" font-family='"Liberation Serif", serif' stroke="#fff" stroke-width="0.5">0</text>
<text transform="translate(1464.31,547.50) scale(1.0400,1)" font-size="46.81" letter-spacing="-1.196" fill="#000" font-family='"Liberation Serif", serif' stroke="#fff" stroke-width="0.5">4</text>
<text transform="translate(1464.31,440.50) scale(1.0400,1)" font-size="46.81" letter-spacing="-1.196" fill="#000" font-family='"Liberation Serif", serif' stroke="#fff" stroke-width="0.5">8</text>
<text transform="translate(1441.21,333.50) scale(1.0400,1)" font-size="46.81" letter-spacing="-1.196" fill="#000" font-family='"Liberation Serif", serif' stroke="#fff" stroke-width="0.5">12</text>
<text transform="translate(1441.21,226.50) scale(1.0400,1)" font-size="46.81" letter-spacing="-1.196" fill="#000" font-family='"Liberation Serif", serif' stroke="#fff" stroke-width="0.5">16</text>
<path d="M1524.40 532.00H1538.30M1524.40 425.00H1538.30M1524.40 318.00H1538.30M1524.40 211.00H1538.30" stroke="#000" stroke-width="2.8" fill="none"/>
<text transform="translate(1576.34,265.10) scale(1.0800,1)" font-size="36.60" letter-spacing="-2.886" fill="#000" stroke="#fff" stroke-width="0.6">ab</text>
<text transform="translate(1644.56,282.70) scale(1.1500,1)" font-size="37.80" letter-spacing="-5.028" fill="#000" stroke="#fff" stroke-width="0.6">b</text>
<text transform="translate(1703.81,242.80) scale(1.0600,1)" font-size="35.50" letter-spacing="-2.149" fill="#000" stroke="#fff" stroke-width="0.6">a</text>
<text transform="translate(1764.21,252.40) scale(1.0600,1)" font-size="35.50" letter-spacing="-2.149" fill="#000" stroke="#fff" stroke-width="0.6">a</text>
<text transform="translate(1912.11,402.40) scale(1.0600,1)" font-size="35.50" letter-spacing="-2.149" fill="#000" stroke="#fff" stroke-width="0.6">a</text>
<text transform="translate(1970.21,448.40) scale(1.0600,1)" font-size="35.50" letter-spacing="-2.149" fill="#000" stroke="#fff" stroke-width="0.6">c</text>
<text transform="translate(2028.76,421.40) scale(1.1500,1)" font-size="37.80" letter-spacing="-5.028" fill="#000" stroke="#fff" stroke-width="0.6">b</text>
<text transform="translate(2088.21,453.00) scale(1.0600,1)" font-size="35.50" letter-spacing="-2.149" fill="#000" stroke="#fff" stroke-width="0.6">c</text>
<text transform="translate(2235.81,497.20) scale(1.0600,1)" font-size="35.50" letter-spacing="-2.149" fill="#000" stroke="#fff" stroke-width="0.6">a</text>
<text transform="translate(2291.86,530.90) scale(1.1500,1)" font-size="37.80" letter-spacing="-5.028" fill="#000" stroke="#fff" stroke-width="0.6">b</text>
<text transform="translate(2353.71,490.70) scale(1.0600,1)" font-size="35.50" letter-spacing="-2.149" fill="#000" stroke="#fff" stroke-width="0.6">a</text>
<text transform="translate(2410.26,521.00) scale(1.1500,1)" font-size="37.80" letter-spacing="-5.028" fill="#000" stroke="#fff" stroke-width="0.6">b</text>
<text transform="translate(1581.01,703.90) scale(1.0000,1)" font-size="42.30" letter-spacing="-1.980" fill="#000" stroke="#fff" stroke-width="0.6">flowering</text>
<text transform="translate(1625.51,756.00) scale(1.0000,1)" font-size="42.30" letter-spacing="-1.980" fill="#000" stroke="#fff" stroke-width="0.6">stage</text>
<text transform="translate(1882.41,703.90) scale(1.0000,1)" font-size="42.30" letter-spacing="-1.980" fill="#000" stroke="#fff" stroke-width="0.6">fruit stage</text>
<text transform="translate(2194.21,703.90) scale(1.0000,1)" font-size="42.30" letter-spacing="-1.980" fill="#000" stroke="#fff" stroke-width="0.6">mature stage</text>
<rect x="257.10" y="1110.00" width="55.47" height="251.50" fill="#fff" stroke="#000" stroke-width="4.8" stroke-linejoin="round"/>
<rect x="312.57" y="1148.60" width="55.47" height="212.90" fill="url(#pdC)" stroke="#000" stroke-width="4.8" stroke-linejoin="round"/>
<rect x="368.05" y="1105.70" width="55.47" height="255.80" fill="url(#pvC)" stroke="#000" stroke-width="4.8" stroke-linejoin="round"/>
<rect x="423.52" y="1141.60" width="55.47" height="219.90" fill="url(#psC)" stroke="#000" stroke-width="4.8" stroke-linejoin="round"/>
<rect x="563.90" y="1038.70" width="55.67" height="322.80" fill="#fff" stroke="#000" stroke-width="4.8" stroke-linejoin="round"/>
<rect x="619.57" y="1212.90" width="55.67" height="148.60" fill="url(#pdC)" stroke="#000" stroke-width="4.8" stroke-linejoin="round"/>
<rect x="675.25" y="943.90" width="55.67" height="417.60" fill="url(#pvC)" stroke="#000" stroke-width="4.8" stroke-linejoin="round"/>
<rect x="730.92" y="1149.10" width="55.67" height="212.40" fill="url(#psC)" stroke="#000" stroke-width="4.8" stroke-linejoin="round"/>
<rect x="868.50" y="1264.10" width="55.77" height="97.40" fill="#fff" stroke="#000" stroke-width="4.8" stroke-linejoin="round"/>
<rect x="924.27" y="1300.00" width="55.77" height="61.50" fill="url(#pdC)" stroke="#000" stroke-width="4.8" stroke-linejoin="round"/>
<rect x="980.05" y="1254.00" width="55.77" height="107.50" fill="url(#pvC)" stroke="#000" stroke-width="4.8" stroke-linejoin="round"/>
<rect x="1035.83" y="1289.40" width="55.77" height="72.10" fill="url(#psC)" stroke="#000" stroke-width="4.8" stroke-linejoin="round"/>
<path d="M271.34 1101.30H298.34M271.34 1126.50H298.34M284.84 1101.30V1126.50" stroke="#000" stroke-width="2.8" fill="none"/>
<path d="M326.81 1142.20H353.81M326.81 1168.20H353.81M340.31 1142.20V1168.20" stroke="#000" stroke-width="2.8" fill="none"/>
<path d="M382.29 1091.20H409.29M382.29 1124.00H409.29M395.79 1091.20V1124.00" stroke="#000" stroke-width="2.8" fill="none"/>
<path d="M437.76 1131.60H464.76M437.76 1147.20H464.76M451.26 1131.60V1147.20" stroke="#000" stroke-width="2.8" fill="none"/>
<path d="M578.24 1018.80H605.24M578.24 1063.00H605.24M591.74 1018.80V1063.00" stroke="#000" stroke-width="2.8" fill="none"/>
<path d="M633.91 1198.60H660.91M633.91 1225.00H660.91M647.41 1198.60V1225.00" stroke="#000" stroke-width="2.8" fill="none"/>
<path d="M689.59 937.20H716.59M689.59 966.80H716.59M703.09 937.20V966.80" stroke="#000" stroke-width="2.8" fill="none"/>
<path d="M745.26 1149.50H772.26M745.26 1162.20H772.26M758.76 1149.50V1162.20" stroke="#000" stroke-width="2.8" fill="none"/>
<path d="M882.89 1234.40H909.89M882.89 1272.60H909.89M896.39 1234.40V1272.60" stroke="#000" stroke-width="2.8" fill="none"/>
<path d="M938.66 1290.80H965.66M938.66 1304.20H965.66M952.16 1290.80V1304.20" stroke="#000" stroke-width="2.8" fill="none"/>
<path d="M994.44 1236.50H1021.44M994.44 1262.20H1021.44M1007.94 1236.50V1262.20" stroke="#000" stroke-width="2.8" fill="none"/>
<path d="M1050.21 1280.70H1077.21M1050.21 1304.00H1077.21M1063.71 1280.70V1304.00" stroke="#000" stroke-width="2.8" fill="none"/>
<path d="M214.30 885.60V1363.50M214.30 1362.30H1135.30" stroke="#000" stroke-width="2.8" fill="none"/>
<text transform="translate(154.77,1378.60) scale(1.0400,1)" font-size="49.19" letter-spacing="-1.612" fill="#000" font-family='"Liberation Serif", serif' stroke="#fff" stroke-width="0.5">0</text>
<text transform="translate(106.97,1283.50) scale(1.0400,1)" font-size="49.19" letter-spacing="-1.612" fill="#000" font-family='"Liberation Serif", serif' stroke="#fff" stroke-width="0.5">300</text>
<text transform="translate(106.97,1188.40) scale(1.0400,1)" font-size="49.19" letter-spacing="-1.612" fill="#000" font-family='"Liberation Serif", serif' stroke="#fff" stroke-width="0.5">600</text>
<text transform="translate(106.97,1093.30) scale(1.0400,1)" font-size="49.19" letter-spacing="-1.612" fill="#000" font-family='"Liberation Serif", serif' stroke="#fff" stroke-width="0.5">900</text>
<text transform="translate(83.07,998.20) scale(1.0400,1)" font-size="49.19" letter-spacing="-1.612" fill="#000" font-family='"Liberation Serif", serif' stroke="#fff" stroke-width="0.5">1200</text>
<text transform="translate(83.07,903.10) scale(1.0400,1)" font-size="49.19" letter-spacing="-1.612" fill="#000" font-family='"Liberation Serif", serif' stroke="#fff" stroke-width="0.5">1500</text>
<path d="M214.30 1267.20H230.50M214.30 1172.10H230.50M214.30 1077.00H230.50M214.30 981.90H230.50M214.30 886.80H230.50" stroke="#000" stroke-width="2.8" fill="none"/>
<text transform="translate(272.11,1071.20) scale(1.0600,1)" font-size="35.50" letter-spacing="-2.149" fill="#000" stroke="#fff" stroke-width="0.6">a</text>
<text transform="translate(327.46,1112.30) scale(1.1500,1)" font-size="37.80" letter-spacing="-5.028" fill="#000" stroke="#fff" stroke-width="0.6">b</text>
<text transform="translate(384.91,1065.60) scale(1.0600,1)" font-size="35.50" letter-spacing="-2.149" fill="#000" stroke="#fff" stroke-width="0.6">a</text>
<text transform="translate(438.06,1101.70) scale(1.1500,1)" font-size="37.80" letter-spacing="-5.028" fill="#000" stroke="#fff" stroke-width="0.6">b</text>
<text transform="translate(577.56,999.70) scale(1.1500,1)" font-size="37.80" letter-spacing="-5.028" fill="#000" stroke="#fff" stroke-width="0.6">b</text>
<text transform="translate(631.56,1176.30) scale(1.1500,1)" font-size="37.80" letter-spacing="-5.028" fill="#000" stroke="#fff" stroke-width="0.6">d</text>
<text transform="translate(689.61,907.10) scale(1.0600,1)" font-size="35.50" letter-spacing="-2.149" fill="#000" stroke="#fff" stroke-width="0.6">a</text>
<text transform="translate(746.11,1111.80) scale(1.0600,1)" font-size="35.50" letter-spacing="-2.149" fill="#000" stroke="#fff" stroke-width="0.6">c</text>
<text transform="translate(882.06,1224.80) scale(1.1500,1)" font-size="37.80" letter-spacing="-5.028" fill="#000" stroke="#fff" stroke-width="0.6">b</text>
<text transform="translate(939.26,1263.20) scale(1.1500,1)" font-size="37.80" letter-spacing="-5.028" fill="#000" stroke="#fff" stroke-width="0.6">d</text>
<text transform="translate(996.71,1214.70) scale(1.0600,1)" font-size="35.50" letter-spacing="-2.149" fill="#000" stroke="#fff" stroke-width="0.6">a</text>
<text transform="translate(1051.01,1250.10) scale(1.0600,1)" font-size="35.50" letter-spacing="-2.149" fill="#000" stroke="#fff" stroke-width="0.6">c</text>
<text transform="translate(258.56,1432.30) scale(1.0000,1)" font-size="43.80" letter-spacing="-2.130" fill="#000" stroke="#fff" stroke-width="0.6">flowering</text>
<text transform="translate(308.76,1486.60) scale(1.0000,1)" font-size="43.80" letter-spacing="-2.130" fill="#000" stroke="#fff" stroke-width="0.6">stage</text>
<text transform="translate(543.31,1432.30) scale(1.0000,1)" font-size="43.80" letter-spacing="-2.130" fill="#000" stroke="#fff" stroke-width="0.6">fruit stage</text>
<text transform="translate(835.53,1432.30) scale(1.0000,1)" font-size="43.80" letter-spacing="-2.130" fill="#000" stroke="#fff" stroke-width="0.6">mature stage</text>
<rect x="1572.10" y="1036.10" width="55.98" height="336.00" fill="#fff" stroke="#000" stroke-width="4.8" stroke-linejoin="round"/>
<rect x="1628.08" y="1056.10" width="55.98" height="316.00" fill="url(#pdD)" stroke="#000" stroke-width="4.8" stroke-linejoin="round"/>
<rect x="1684.05" y="1033.30" width="55.98" height="338.80" fill="url(#pvD)" stroke="#000" stroke-width="4.8" stroke-linejoin="round"/>
<rect x="1740.03" y="1051.30" width="55.98" height="320.80" fill="url(#psD)" stroke="#000" stroke-width="4.8" stroke-linejoin="round"/>
<rect x="1879.90" y="978.00" width="56.75" height="394.10" fill="#fff" stroke="#000" stroke-width="4.8" stroke-linejoin="round"/>
<rect x="1936.65" y="1053.80" width="56.75" height="318.30" fill="url(#pdD)" stroke="#000" stroke-width="4.8" stroke-linejoin="round"/>
<rect x="1993.40" y="1026.30" width="56.75" height="345.80" fill="url(#pvD)" stroke="#000" stroke-width="4.8" stroke-linejoin="round"/>
<rect x="2050.15" y="1056.60" width="56.75" height="315.50" fill="url(#psD)" stroke="#000" stroke-width="4.8" stroke-linejoin="round"/>
<rect x="2190.30" y="1020.40" width="56.10" height="351.70" fill="#fff" stroke="#000" stroke-width="4.8" stroke-linejoin="round"/>
<rect x="2246.40" y="1048.30" width="56.10" height="323.80" fill="url(#pdD)" stroke="#000" stroke-width="4.8" stroke-linejoin="round"/>
<rect x="2302.50" y="975.50" width="56.10" height="396.60" fill="url(#pvD)" stroke="#000" stroke-width="4.8" stroke-linejoin="round"/>
<rect x="2358.60" y="1048.80" width="56.10" height="323.30" fill="url(#psD)" stroke="#000" stroke-width="4.8" stroke-linejoin="round"/>
<path d="M1586.59 1017.00H1613.59M1586.59 1046.80H1613.59M1600.09 1017.00V1046.80" stroke="#000" stroke-width="2.8" fill="none"/>
<path d="M1642.56 1049.40H1669.56M1642.56 1065.80H1669.56M1656.06 1049.40V1065.80" stroke="#000" stroke-width="2.8" fill="none"/>
<path d="M1698.54 1021.60H1725.54M1698.54 1040.50H1725.54M1712.04 1021.60V1040.50" stroke="#000" stroke-width="2.8" fill="none"/>
<path d="M1754.51 1036.70H1781.51M1754.51 1062.00H1781.51M1768.01 1036.70V1062.00" stroke="#000" stroke-width="2.8" fill="none"/>
<path d="M1894.78 960.70H1921.78M1894.78 991.50H1921.78M1908.28 960.70V991.50" stroke="#000" stroke-width="2.8" fill="none"/>
<path d="M1951.53 1044.10H1978.53M1951.53 1061.00H1978.53M1965.03 1044.10V1061.00" stroke="#000" stroke-width="2.8" fill="none"/>
<path d="M2008.28 1018.60H2035.28M2008.28 1042.00H2035.28M2021.78 1018.60V1042.00" stroke="#000" stroke-width="2.8" fill="none"/>
<path d="M2065.03 1037.00H2092.03M2065.03 1074.40H2092.03M2078.53 1037.00V1074.40" stroke="#000" stroke-width="2.8" fill="none"/>
<path d="M2204.85 1016.80H2231.85M2204.85 1029.40H2231.85M2218.35 1016.80V1029.40" stroke="#000" stroke-width="2.8" fill="none"/>
<path d="M2260.95 1034.00H2287.95M2260.95 1066.60H2287.95M2274.45 1034.00V1066.60" stroke="#000" stroke-width="2.8" fill="none"/>
<path d="M2317.05 955.60H2344.05M2317.05 981.40H2344.05M2330.55 955.60V981.40" stroke="#000" stroke-width="2.8" fill="none"/>
<path d="M2373.15 1034.00H2400.15M2373.15 1057.20H2400.15M2386.65 1034.00V1057.20" stroke="#000" stroke-width="2.8" fill="none"/>
<path d="M1529.30 930.10V1374.10M1529.30 1372.90H2458.00" stroke="#000" stroke-width="2.8" fill="none"/>
<text transform="translate(1468.29,1388.90) scale(1.0400,1)" font-size="48.30" letter-spacing="-1.071" fill="#000" font-family='"Liberation Serif", serif' stroke="#fff" stroke-width="0.5">0</text>
<text transform="translate(1444.29,1339.83) scale(1.0400,1)" font-size="48.30" letter-spacing="-1.071" fill="#000" font-family='"Liberation Serif", serif' stroke="#fff" stroke-width="0.5">50</text>
<text transform="translate(1420.29,1290.77) scale(1.0400,1)" font-size="48.30" letter-spacing="-1.071" fill="#000" font-family='"Liberation Serif", serif' stroke="#fff" stroke-width="0.5">100</text>
<text transform="translate(1420.29,1241.70) scale(1.0400,1)" font-size="48.30" letter-spacing="-1.071" fill="#000" font-family='"Liberation Serif", serif' stroke="#fff" stroke-width="0.5">150</text>
<text transform="translate(1420.29,1192.63) scale(1.0400,1)" font-size="48.30" letter-spacing="-1.071" fill="#000" font-family='"Liberation Serif", serif' stroke="#fff" stroke-width="0.5">200</text>
<text transform="translate(1420.29,1143.57) scale(1.0400,1)" font-size="48.30" letter-spacing="-1.071" fill="#000" font-family='"Liberation Serif", serif' stroke="#fff" stroke-width="0.5">250</text>
<text transform="translate(1420.29,1094.50) scale(1.0400,1)" font-size="48.30" letter-spacing="-1.071" fill="#000" font-family='"Liberation Serif", serif' stroke="#fff" stroke-width="0.5">300</text>
<text transform="translate(1420.29,1045.43) scale(1.0400,1)" font-size="48.30" letter-spacing="-1.071" fill="#000" font-family='"Liberation Serif", serif' stroke="#fff" stroke-width="0.5">350</text>
<text transform="translate(1420.29,996.37) scale(1.0400,1)" font-size="48.30" letter-spacing="-1.071" fill="#000" font-family='"Liberation Serif", serif' stroke="#fff" stroke-width="0.5">400</text>
<text transform="translate(1420.29,947.30) scale(1.0400,1)" font-size="48.30" letter-spacing="-1.071" fill="#000" font-family='"Liberation Serif", serif' stroke="#fff" stroke-width="0.5">450</text>
<path d="M1529.30 1323.83H1543.70M1529.30 1274.77H1543.70M1529.30 1225.70H1543.70M1529.30 1176.63H1543.70M1529.30 1127.57H1543.70M1529.30 1078.50H1543.70M1529.30 1029.43H1543.70M1529.30 980.37H1543.70M1529.30 931.30H1543.70" stroke="#000" stroke-width="2.8" fill="none"/>
<text transform="translate(1586.41,999.30) scale(1.0600,1)" font-size="35.50" letter-spacing="-2.149" fill="#000" stroke="#fff" stroke-width="0.6">a</text>
<text transform="translate(1642.01,1017.00) scale(1.0600,1)" font-size="35.50" letter-spacing="-2.149" fill="#000" stroke="#fff" stroke-width="0.6">a</text>
<text transform="translate(1700.21,997.30) scale(1.0600,1)" font-size="35.50" letter-spacing="-2.149" fill="#000" stroke="#fff" stroke-width="0.6">a</text>
<text transform="translate(1755.81,1014.90) scale(1.0600,1)" font-size="35.50" letter-spacing="-2.149" fill="#000" stroke="#fff" stroke-width="0.6">a</text>
<text transform="translate(1896.91,939.40) scale(1.0600,1)" font-size="35.50" letter-spacing="-2.149" fill="#000" stroke="#fff" stroke-width="0.6">a</text>
<text transform="translate(1953.21,1017.30) scale(1.0600,1)" font-size="35.50" letter-spacing="-2.149" fill="#000" stroke="#fff" stroke-width="0.6">c</text>
<text transform="translate(2008.06,990.00) scale(1.1500,1)" font-size="37.80" letter-spacing="-5.028" fill="#000" stroke="#fff" stroke-width="0.6">b</text>
<text transform="translate(2064.21,1019.00) scale(1.0600,1)" font-size="35.50" letter-spacing="-2.149" fill="#000" stroke="#fff" stroke-width="0.6">c</text>
<text transform="translate(2205.06,986.20) scale(1.1500,1)" font-size="37.80" letter-spacing="-5.028" fill="#000" stroke="#fff" stroke-width="0.6">b</text>
<text transform="translate(2261.31,1011.40) scale(1.0600,1)" font-size="35.50" letter-spacing="-2.149" fill="#000" stroke="#fff" stroke-width="0.6">c</text>
<text transform="translate(2318.91,938.70) scale(1.0600,1)" font-size="35.50" letter-spacing="-2.149" fill="#000" stroke="#fff" stroke-width="0.6">a</text>
<text transform="translate(2375.01,1011.40) scale(1.0600,1)" font-size="35.50" letter-spacing="-2.149" fill="#000" stroke="#fff" stroke-width="0.6">c</text>
<text transform="translate(1578.01,1439.40) scale(1.0000,1)" font-size="42.30" letter-spacing="-1.880" fill="#000" stroke="#fff" stroke-width="0.6">flowering</text>
<text transform="translate(1625.61,1491.70) scale(1.0000,1)" font-size="42.30" letter-spacing="-1.880" fill="#000" stroke="#fff" stroke-width="0.6">stage</text>
<text transform="translate(1864.21,1439.40) scale(1.0000,1)" font-size="42.30" letter-spacing="-1.880" fill="#000" stroke="#fff" stroke-width="0.6">fruit stage</text>
<text transform="translate(2159.86,1439.40) scale(1.0000,1)" font-size="42.30" letter-spacing="-1.880" fill="#000" stroke="#fff" stroke-width="0.6">mature stage</text>
<text transform="translate(52.20,631.70) rotate(-90) scale(1.0000,1)" font-size="44.30" letter-spacing="-1.980" fill="#000" stroke="#fff" stroke-width="0.6">photosynthetic rate</text>
<text transform="translate(1399.50,652.16) rotate(-90) scale(1.0000,1)" font-size="42.30" letter-spacing="-1.830" fill="#000" stroke="#fff" stroke-width="0.6">transpiration rate</text>
<text transform="translate(40.40,1367.10) rotate(-90) scale(1.0000,1)" font-size="44.30" letter-spacing="-2.380" fill="#000" stroke="#fff" stroke-width="0.6">stomatal conductance</text>
<text transform="translate(1299.30,1296.30) rotate(-90) scale(1.0000,1)" font-size="42.80" letter-spacing="-2.280" fill="#000" stroke="#fff" stroke-width="0.6">intercellular CO</text>
<text transform="translate(1309.40,917.60) rotate(-90) scale(1.0000,1)" font-size="30.00" letter-spacing="0.000" fill="#000" stroke="#fff" stroke-width="0.6">2</text>
<text transform="translate(1360.00,1257.10) rotate(-90) scale(1.0000,1)" font-size="42.80" letter-spacing="-1.780" fill="#000" stroke="#fff" stroke-width="0.6">concentration</text>
<rect x="906.50" y="111.90" width="17.80" height="17.80" rx="1.5" fill="#fff" stroke="#000" stroke-width="5.0"/>
<text transform="translate(930.51,135.90) scale(0.8000,1)" font-size="44.50" letter-spacing="-1.075" fill="#000">BKIM</text>
<rect x="1055.10" y="111.90" width="17.80" height="17.80" rx="1.5" fill="url(#pdA)" stroke="#000" stroke-width="5.0"/>
<text transform="translate(1075.91,135.90) scale(0.8000,1)" font-size="44.50" letter-spacing="-1.075" fill="#000">BK</text>
<rect x="906.50" y="163.70" width="17.80" height="17.80" rx="1.5" fill="url(#pvA)" stroke="#000" stroke-width="5.0"/>
<text transform="translate(930.51,187.70) scale(0.8000,1)" font-size="44.50" letter-spacing="-1.075" fill="#000">DHIM</text>
<rect x="1055.10" y="163.70" width="17.80" height="17.80" rx="1.5" fill="url(#psA)" stroke="#000" stroke-width="5.0"/>
<text transform="translate(1075.91,187.70) scale(0.8000,1)" font-size="44.50" letter-spacing="-1.075" fill="#000">DH</text>
<rect x="2218.70" y="196.00" width="19.50" height="17.50" rx="1.5" fill="#fff" stroke="#000" stroke-width="5.0"/>
<text transform="translate(2243.51,218.20) scale(0.8000,1)" font-size="44.50" letter-spacing="-0.450" fill="#000">BKIM</text>
<rect x="2361.50" y="196.00" width="17.50" height="17.50" rx="1.5" fill="url(#pdB)" stroke="#000" stroke-width="5.0"/>
<text transform="translate(2384.31,218.20) scale(0.8000,1)" font-size="44.50" letter-spacing="-0.450" fill="#000">BK</text>
<rect x="2218.70" y="255.60" width="19.50" height="17.50" rx="1.5" fill="url(#pvB)" stroke="#000" stroke-width="5.0"/>
<text transform="translate(2243.51,278.40) scale(0.8000,1)" font-size="44.50" letter-spacing="-0.450" fill="#000">DHIM</text>
<rect x="2361.50" y="255.60" width="17.50" height="17.50" rx="1.5" fill="url(#psB)" stroke="#000" stroke-width="5.0"/>
<text transform="translate(2384.31,278.40) scale(0.8000,1)" font-size="44.50" letter-spacing="-0.450" fill="#000">DH</text>
<rect x="830.70" y="870.20" width="18.00" height="18.00" rx="1.5" fill="#fff" stroke="#000" stroke-width="5.0"/>
<text transform="translate(854.01,893.00) scale(0.8000,1)" font-size="44.50" letter-spacing="-1.450" fill="#000">BKIM</text>
<rect x="973.50" y="870.20" width="18.00" height="18.00" rx="1.5" fill="url(#pdC)" stroke="#000" stroke-width="5.0"/>
<text transform="translate(997.01,893.00) scale(0.8000,1)" font-size="44.50" letter-spacing="-1.450" fill="#000">BK</text>
<rect x="830.70" y="928.40" width="18.00" height="18.00" rx="1.5" fill="url(#pvC)" stroke="#000" stroke-width="5.0"/>
<text transform="translate(854.01,951.60) scale(0.8000,1)" font-size="44.50" letter-spacing="-1.450" fill="#000">DHIM</text>
<rect x="973.50" y="928.40" width="18.00" height="18.00" rx="1.5" fill="#fff" stroke="#000" stroke-width="5.0"/>
<text transform="translate(997.01,951.60) scale(0.8000,1)" font-size="44.50" letter-spacing="-1.450" fill="#000">DH</text>
<rect x="1990" y="883" width="246" height="93.5" fill="#fff"/>
<rect x="2000.80" y="895.00" width="17.30" height="17.30" rx="1.5" fill="#fff" stroke="#000" stroke-width="5.0"/>
<text transform="translate(2022.11,917.70) scale(0.8000,1)" font-size="44.50" letter-spacing="-1.950" fill="#000">BKIM</text>
<rect x="2134.80" y="895.00" width="17.30" height="17.30" rx="1.5" fill="url(#pdD)" stroke="#000" stroke-width="5.0"/>
<text transform="translate(2155.51,917.70) scale(0.8000,1)" font-size="44.50" letter-spacing="-1.950" fill="#000">BK</text>
<rect x="2000.80" y="945.20" width="17.30" height="17.30" rx="1.5" fill="url(#pvD)" stroke="#000" stroke-width="5.0"/>
<text transform="translate(2022.11,968.00) scale(0.8000,1)" font-size="44.50" letter-spacing="-1.950" fill="#000">DHIM</text>
<rect x="2134.80" y="945.20" width="17.30" height="17.30" rx="1.5" fill="url(#psD)" stroke="#000" stroke-width="5.0"/>
<text transform="translate(2155.51,968.00) scale(0.8000,1)" font-size="44.50" letter-spacing="-1.950" fill="#000">DH</text>
</g>
<text x="37.2" y="34.2" font-family='"Liberation Sans", Arial, sans-serif' font-weight="bold" font-size="41" fill="#000">A</text>
<text x="1323.0" y="34.2" font-family='"Liberation Sans", Arial, sans-serif' font-weight="bold" font-size="41" fill="#000">B</text>
<text x="36.4" y="802.8" font-family='"Liberation Sans", Arial, sans-serif' font-weight="bold" font-size="41" fill="#000">C</text>
<text x="1322.6" y="803.2" font-family='"Liberation Sans", Arial, sans-serif' font-weight="bold" font-size="41" fill="#000">D</text>
</svg>
</body></html>
